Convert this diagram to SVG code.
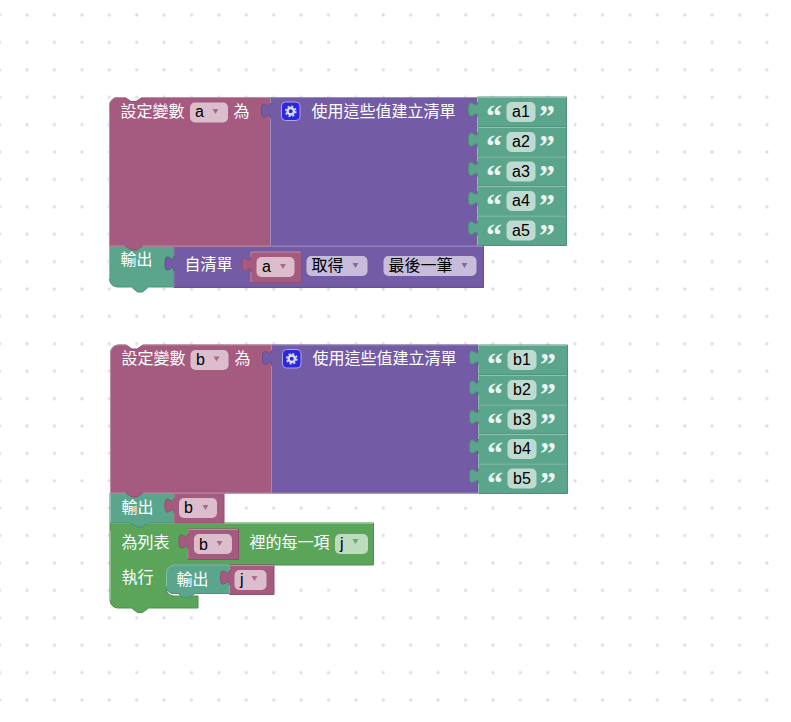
<svg xmlns="http://www.w3.org/2000/svg" width="791" height="722" viewBox="0 0 791 722">
<style>
.v{fill:#a55b80;stroke:#8f4f6f}
.l{fill:#745ba5;stroke:#654f8f}
.s{fill:#5ba58c;stroke:#4f8f79}
.f{fill:#5ba55b;stroke:#4f8f4f}
.hv,.hl,.hs,.hf{fill:none;stroke-width:1}
.hv{stroke:#c08da6}.hl{stroke:#9d8cc0}.hs{stroke:#8cc0ae}.hf{stroke:#8cc08c}
text{font-family:"Liberation Sans","Noto Sans CJK TC",sans-serif;font-size:16px}
.w{fill:#fff}
.b{fill:#000}
.q{font-family:"Liberation Serif",serif;font-weight:bold;font-size:32px;fill:#eaf4f0}
.fv{fill:#dbbdcc}
.fl{fill:#c7bddb}
.fs{fill:#bddbd1}
.ff{fill:#bddbbd}
.av{fill:#a55b80}.al{fill:#745ba5}.af{fill:#5ba55b}
</style>
<defs>
<pattern id="grid" patternUnits="userSpaceOnUse" x="-14" y="1.3" width="27.4" height="27.4"><circle cx="13.7" cy="13.7" r="1.6" fill="#ddd"/></pattern>
<g id="str"><path d="M0.5,0H89.5V30H0.5V20c0,-10 -9,8 -9,-7.500s9,2.500 9,-7.500z" class="s"/><path class="hs" d="M0.500,5V0.500H89M0.500,20V30"/><text class="q" x="9" y="30">“</text><text class="q" x="62" y="30">”</text><rect class="fs" x="29.500" y="5" width="29" height="20" rx="5"/></g>
<path id="tick" d="M0,0l3,5 3,-5z" opacity=".85"/>
<g id="gear"><rect x="0.500" y="0.500" width="18.500" height="18.500" rx="4" fill="#2e28dc" stroke="#a9a4e8"/><circle cx="9.750" cy="9.750" r="3.200" fill="none" stroke="#dcdcf4" stroke-width="2.400"/><circle cx="9.750" cy="9.750" r="5" fill="none" stroke="#dcdcf4" stroke-width="1.600" stroke-dasharray="2 1.930"/></g>
</defs>
<rect width="791" height="722" fill="#fff"/>
<rect width="791" height="722" fill="url(#grid)"/>

<g id="stack-a">
<g id="output-a">
<path class="s" d="M117.500,246H174V287H148.500l-6,5 -5,0 -6,-5H117.500a8,8 0 0 1 -8,-8V246z"/>
<path class="hs" d="M109.500,279V246H174"/>
<text class="w" x="120.500" y="265">輸出</text>
</g>
<g id="getlast-a">
<path class="l" d="M174,246H483.500V287.500H174V271c0,-10 -9,8 -9,-7.500s9,2.500 9,-7.500z"/>
<path class="hl" d="M174,256V246.500H483M174,271V287"/>
<text class="w" x="184.500" y="270">自清單</text>
<rect class="fl" x="306.500" y="256" width="61" height="20" rx="5"/>
<text class="b" x="311.500" y="271">取得</text>
<use href="#tick" class="al" x="352.500" y="263"/>
<rect class="fl" x="383.500" y="256" width="93" height="20" rx="5"/>
<text class="b" x="388.500" y="271">最後一筆</text>
<use href="#tick" class="al" x="461.500" y="263"/>
</g>
<g id="var-a2">
<path class="v" d="M251,251.500H301.500V282.500H251V272c0,-10 -9,8 -9,-7.500s9,2.500 9,-7.500z"/>
<path class="hv" d="M251,257V252H301M251,272V282"/>
<rect class="fv" x="256.500" y="257" width="38" height="20" rx="5"/>
<text class="b" x="262" y="272">a</text>
<use href="#tick" class="av" x="280" y="264"/>
</g>
<g id="set-a">
<path class="v" d="M117.500,97.500H125l6,4 5,0 6,-4H270.500V246H142.500l-6,4 -5,0 -6,-4H109.500V105.500a8,8 0 0 1 8,-8z"/>
<path class="hv" d="M109.500,246V105.500a8,8 0 0 1 8,-8H125M142,97.500H270M109.500,246H125M142.500,246H270.500"/>
<text class="w" x="120.500" y="117">設定變數</text>
<rect class="fv" x="190" y="102.500" width="38" height="20" rx="5"/>
<text class="b" x="195" y="117">a</text>
<use href="#tick" class="av" x="212.500" y="109"/>
<text class="w" x="233.500" y="117">為</text>
</g>
<g id="list-a">
<path class="l" d="M270.500,97.500H477.500V246H270.500V118c0,-10 -9,8 -9,-7.500s9,2.500 9,-7.500z"/>
<path class="hl" d="M270.500,103V97.500H477M270.500,118V246H477.500"/>
<use href="#gear" x="281" y="101.500"/>
<text class="w" x="311.500" y="117">使用這些值建立清單</text>
</g>
<g id="a1"><use href="#str" x="477" y="97"/><text class="b" x="512" y="117">a1</text></g>
<g id="a2"><use href="#str" x="477" y="127"/><text class="b" x="512" y="147">a2</text></g>
<g id="a3"><use href="#str" x="477" y="156.500"/><text class="b" x="512" y="176.500">a3</text></g>
<g id="a4"><use href="#str" x="477" y="186"/><text class="b" x="512" y="206">a4</text></g>
<g id="a5"><use href="#str" x="477" y="215.500"/><text class="b" x="512" y="235.500">a5</text></g>
</g>

<g id="stack-b">
<g id="foreach">
<path class="f" d="M110,523H131l6,4 5,0 6,-4H373.500V565H174a8,8 0 0 0 -8,8V588a8,8 0 0 0 8,8H198V608H148.500l-6,4.500 -5,0 -6,-4.500H118a8,8 0 0 1 -8,-8z"/>
<path class="hf" d="M110.500,600V531M110.500,523.500H373M166,573V588"/>
<text class="w" x="121.500" y="548">為列表</text>
<text class="w" x="249.500" y="548">裡的每一項</text>
<rect class="ff" x="335" y="534" width="33" height="20" rx="5"/>
<text class="b" x="340" y="549">j</text>
<use href="#tick" class="af" x="352.500" y="539"/>
<text class="w" x="121.500" y="583">執行</text>
</g>
<g id="var-b2">
<path class="v" d="M188,529H238.500V559.500H188V549c0,-10 -9,8 -9,-7.500s9,2.500 9,-7.500z"/>
<path class="hv" d="M188,534V529.500H238M188,549V559"/>
<rect class="fv" x="194" y="534" width="38" height="20" rx="5"/>
<text class="b" x="199" y="550">b</text>
<use href="#tick" class="av" x="216.500" y="541"/>
</g>
<g id="output-j">
<path class="s" d="M174,565H229.500V593.500H195l-6,4 -5,0 -6,-4H172a8,8 0 0 1 -6,-7V573a8,8 0 0 1 8,-8z"/>
<path class="hs" d="M166.500,586V573a8,8 0 0 1 8,-8H229"/>
<text class="w" x="176.500" y="585">輸出</text>
</g>
<g id="var-j">
<path class="v" d="M229.500,565H274V594.500H229.500V585c0,-10 -9,8 -9,-7.500s9,2.500 9,-7.500z"/>
<path class="hv" d="M229.500,570V565.500H274M229.500,585V594"/>
<rect class="fv" x="234.500" y="570" width="32" height="20" rx="5"/>
<text class="b" x="240" y="585">j</text>
<use href="#tick" class="av" x="251.500" y="576"/>
</g>
<g id="output-b">
<path class="s" d="M110,493H174V523H148l-6,4 -5,0 -6,-4H110z"/>
<path class="hs" d="M110.500,523V493.500H174"/>
<text class="w" x="121.500" y="513">輸出</text>
</g>
<g id="var-b1">
<path class="v" d="M174,493H224V523H174V513c0,-10 -9,8 -9,-7.500s9,2.500 9,-7.500z"/>
<path class="hv" d="M174,498V493.500H224M174,513V523"/>
<rect class="fv" x="179" y="498" width="38" height="20" rx="5"/>
<text class="b" x="184" y="513">b</text>
<use href="#tick" class="av" x="202.500" y="505"/>
</g>
<g id="set-b">
<path class="v" d="M118.500,345H126l6,4 5,0 6,-4H271.500V493H143l-6,4 -5,0 -6,-4H110.500V353a8,8 0 0 1 8,-8z"/>
<path class="hv" d="M110.500,493V353a8,8 0 0 1 8,-8H126M143,345H271M110.500,493H126M143,493H271.500"/>
<text class="w" x="121.500" y="364">設定變數</text>
<rect class="fv" x="190.500" y="350" width="38" height="20" rx="5"/>
<text class="b" x="196" y="365">b</text>
<use href="#tick" class="av" x="213.500" y="356.500"/>
<text class="w" x="234.500" y="364">為</text>
</g>
<g id="list-b">
<path class="l" d="M271.500,345H478V493H271.500V365.500c0,-10 -9,8 -9,-7.500s9,2.500 9,-7.500z"/>
<path class="hl" d="M271.500,350.500V345H478M271.500,365.500V493H478"/>
<use href="#gear" x="282" y="349"/>
<text class="w" x="312.500" y="364">使用這些值建立清單</text>
</g>
<g id="b1"><use href="#str" x="478" y="345"/><text class="b" x="513" y="365">b1</text></g>
<g id="b2"><use href="#str" x="478" y="375"/><text class="b" x="513" y="395">b2</text></g>
<g id="b3"><use href="#str" x="478" y="404.500"/><text class="b" x="513" y="424.500">b3</text></g>
<g id="b4"><use href="#str" x="478" y="434"/><text class="b" x="513" y="454">b4</text></g>
<g id="b5"><use href="#str" x="478" y="463.500"/><text class="b" x="513" y="483.500">b5</text></g>
</g>
</svg>
